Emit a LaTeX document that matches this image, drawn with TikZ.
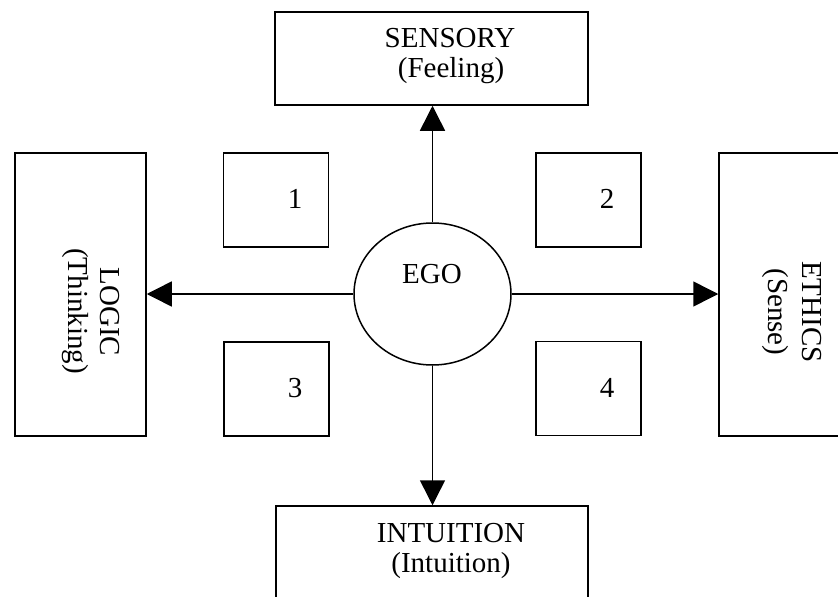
\documentclass[tikz,border=0pt]{standalone}
\usepackage{fontspec}
\setmainfont{Liberation Serif}
\usetikzlibrary{arrows.meta,shapes.geometric}
\begin{document}
\begin{tikzpicture}[x=1pt,y=-1pt,
  every node/.style={font=\fontsize{29}{30}\selectfont},
  panel/.style={draw, line width=1.5pt, inner sep=0pt, rectangle},
  cell/.style={panel, minimum width=105pt, minimum height=94pt},
  label/.style={anchor=base, inner sep=0pt},
  vlabel/.style={anchor=base, inner sep=0pt, rotate=-90},
  conn/.style={line width=1.5pt, -{Triangle[length=25pt,width=25pt]}}]
  \clip (0,0) rectangle (838,597);

  % outer function boxes
  \node[panel, minimum width=313pt, minimum height=93pt]  (sens)   at (431.5,58.5) {};
  \node[panel, minimum width=312pt, minimum height=124pt] (intu)   at (432,568)    {};
  \node[panel, minimum width=131pt, minimum height=283pt] (logic)  at (80.5,294.5) {};
  \node[panel, minimum width=131pt, minimum height=283pt] (ethics) at (784.5,294.5) {};

  % quadrant boxes
  \node[cell] (q1) at (276,200)   {};
  \node[cell] (q2) at (588.5,200) {};
  \node[cell] (q3) at (276.5,389) {};
  \node[cell] (q4) at (588.5,388.5) {};

  % centre
  \node[draw, ellipse, line width=1.5pt, inner sep=0pt,
        minimum width=157pt, minimum height=142pt] (ego) at (432.5,294) {};

  % texts
  \node[label] (tsens)  at (450,47)  {SENSORY};
  \node[label] (tfeel)  at (451,77)  {(Feeling)};
  \node[label] (tintu)  at (451,542) {INTUITION};
  \node[label] (tintu2) at (451,572) {(Intuition)};
  \node[vlabel] (tlogic) at (100,312) {LOGIC};
  \node[vlabel] (tthink) at (68,311)  {(Thinking)};
  \node[vlabel] (teth)   at (802,312) {ETHICS};
  \node[vlabel] (tsense) at (768,312) {(Sense)};
  \node[label] (tego) at (432,283) {EGO};
  \node[label] (n1) at (295,208) {1};
  \node[label] (n2) at (607,208) {2};
  \node[label] (n3) at (295,397) {3};
  \node[label] (n4) at (607,397) {4};

  % connectors
  \draw[conn] (ego.north) -- (ego.north |- sens.south);
  \draw[conn] (ego.south) -- (ego.south |- intu.north);
  \draw[conn] (ego.west)  -- (ego.west -| logic.east);
  \draw[conn] (ego.east)  -- (ego.east -| ethics.west);
\end{tikzpicture}
\end{document}
